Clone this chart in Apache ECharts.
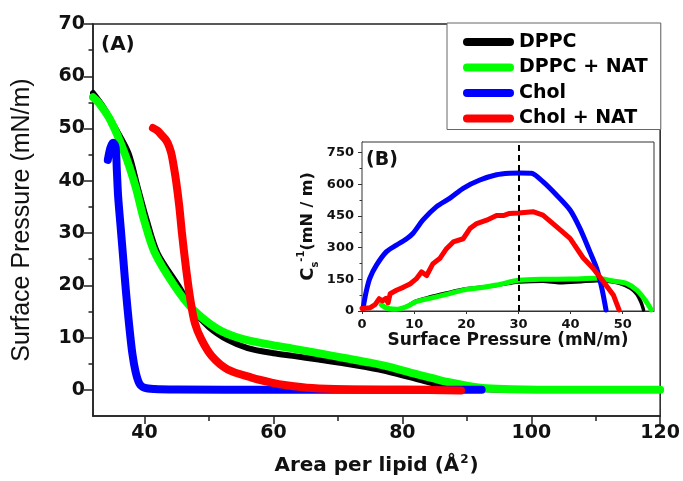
<!DOCTYPE html>
<html>
<head>
<meta charset="utf-8">
<script src="https://cdn.jsdelivr.net/npm/echarts@6/dist/echarts.min.js"></script>
<style>
html,body{margin:0;padding:0;background:#fff;}
#c{width:683px;height:481px;}
</style>
</head>
<body>
<div id="c"></div>
<script>
// ---- Data ----
const seriesNames = ['DPPC', 'DPPC + NAT', 'Chol', 'Chol + NAT'];
const seriesColors = ['#000000', '#00ff00', '#0000ff', '#ff0000'];

// Panel A: area per lipid (Å²) vs surface pressure (mN/m)
const dppcIso = [[32,56.8],[33.5,54.3],[35.4,50.2],[37.5,45.3],[38.9,38.9],[40.3,32.6],[42,26.2],[45.3,19.8],[47.5,15.4],[50,12],[53,9.5],[56,8],[60,7],[63,6.5],[67,5.8],[71.3,5.0],[76.4,3.9],[79,3.1],[81.6,2.3],[84,1.5],[86.8,0.8],[89.3,0.35],[93,0.1],[99,0]];
const dppcNatIso = [[32,56],[32.9,54.9],[34.7,51.6],[36.9,45.3],[38.6,38.9],[39.9,32.6],[41.6,26.2],[44.7,19.8],[47.5,15.4],[51.4,11.6],[55,9.8],[59.7,8.6],[63,7.9],[67,7.0],[71,6.1],[75,5.2],[78,4.4],[81.6,3.2],[84.5,2.3],[87,1.5],[90,0.8],[93,0.3],[97,0.1],[105,0],[120,0]];
const cholIso = [[34.3,44],[34.7,46.3],[35.1,47.3],[35.5,46.5],[35.7,42],[35.9,37],[36.3,31],[36.7,25],[37.1,19],[37.6,12.5],[38.1,7],[38.6,3.5],[39.2,1.2],[40,0.4],[41.5,0.15],[45,0.05],[60,0],[92.3,0]];
const cholNatIso = [[41.3,50.1],[42,49.6],[42.6,48.8],[43.2,48],[43.6,47.2],[44.1,45.5],[44.4,43.7],[44.9,39.9],[45.4,35],[45.8,30],[46.4,23.6],[47.1,17.3],[47.8,12.8],[48.8,9.7],[50.4,6.5],[52.9,3.9],[56.6,2.35],[59.7,1.4],[62,0.9],[66,0.35],[71,0.1],[80,0],[89.1,-0.1]];

// Panel B: surface pressure (mN/m) vs compressibility modulus Cs^-1 (mN/m)
const dppcCs = [[4,26],[5,12],[6.6,9],[8.5,22],[10.4,48],[13,66],[16.2,85],[19.4,103],[22.6,112],[25.8,121],[28.3,131],[30,137],[34.7,141],[38,134],[42,139],[45,143],[47.5,140],[49.5,130],[51.5,108],[52.7,80],[53.5,42],[54,5]];
const dppcNatCs = [[3.7,30],[4.4,18],[5,12],[6.6,8],[8.5,20],[10.4,44],[13,60],[16.2,79],[19.4,99],[22.6,110],[25.8,123],[28.3,137],[30,146],[34.7,150],[39.9,151],[45,155],[48.2,142],[50.7,131],[52.7,99],[54.3,52],[55.5,5]];
const cholCs = [[0.2,13],[0.8,91],[1.5,155],[2.8,218],[4.7,281],[6.6,312],[8.5,341],[9.8,368],[11.7,431],[14.3,494],[16.8,533],[19.4,581],[22.6,620],[25.8,645],[28.3,652],[30.3,653],[32.5,652],[34.7,612],[37.3,549],[39.9,478],[41.8,391],[43.7,281],[45,202],[46,107],[46.8,5]];
const cholNatCs = [[0,12],[1.5,15],[2.5,30],[3.3,58],[3.9,48],[4.6,60],[5.0,38],[5.4,82],[6.6,98],[7.9,112],[9.2,128],[10.4,152],[11.4,185],[12.4,168],[13.6,224],[14.9,248],[16.2,295],[17.5,327],[19.4,342],[20.7,390],[22,414],[23.9,430],[25.8,452],[27.1,452],[28.3,462],[30,464],[32.8,470],[34.7,454],[37.3,399],[39.9,344],[42.4,252],[44.3,202],[46.3,139],[48.2,76],[49.3,5]];
const markPressure = 30;

// Tick values
const mainXMajor = [40, 60, 80, 100, 120];
const mainXMinor = [50, 70, 90, 110];
const mainYMajor = [0, 10, 20, 30, 40, 50, 60, 70];
const mainYMinor = [5, 15, 25, 35, 45, 55, 65];
const insetXMajor = [0, 10, 20, 30, 40, 50];
const insetXTop = [5, 10, 15, 20, 25, 30, 35, 40, 45, 50, 55];
const insetYMajor = [0, 150, 300, 450, 600, 750];
const insetYMinor = [75, 225, 375, 525, 675];

// ---- Chart ----
const FB = 'DejaVu Sans';
const axisColor = '#222';
const lbl = (size) => ({fontFamily: FB, fontWeight: 'bold', fontSize: size, color: '#111'});

const chart = echarts.init(document.getElementById('c'), null, {renderer: 'canvas'});

const mainData = [dppcIso, dppcNatIso, cholIso, cholNatIso];
const insetData = [dppcCs, dppcNatCs, cholCs, cholNatCs];
const mainWidths = [6, 8, 8, 8];
const insetWidths = [3.5, 5, 5, 5];

const series = [];
mainData.forEach((d, i) => {
  series.push({
    name: seriesNames[i], type: 'line', xAxisIndex: 0, yAxisIndex: 0,
    data: d, showSymbol: false, smooth: 0.3, z: 2 + i,
    lineStyle: {color: seriesColors[i], width: mainWidths[i], cap: 'round', join: 'round'},
    itemStyle: {color: seriesColors[i]}
  });
});
insetData.forEach((d, i) => {
  const s = {
    name: seriesNames[i], type: 'line', xAxisIndex: 2, yAxisIndex: 2,
    data: d, showSymbol: false, smooth: i === 3 ? false : 0.25, z: 12 + i,
    lineStyle: {color: seriesColors[i], width: insetWidths[i], cap: 'round', join: 'round'},
    itemStyle: {color: seriesColors[i]}
  };
  if (i === 0) {
    s.markLine = {
      silent: true, symbol: 'none', label: {show: false}, z: 20,
      lineStyle: {color: '#000', type: [6, 4], width: 2},
      data: [{xAxis: markPressure}]
    };
  }
  series.push(s);
});

const pill = 'path://M4,0 L47,0 A4,4 0 0 1 47,8 L4,8 A4,4 0 0 1 4,0 Z';

chart.setOption({
  animation: false,
  backgroundColor: '#fff',
  grid: [
    {left: 93, top: 24, right: 22, bottom: 64, show: true, borderColor: axisColor, borderWidth: 1.5, backgroundColor: 'transparent'},
    {left: 362, top: 142, right: 29, bottom: 170, show: true, borderColor: '#333', borderWidth: 1, backgroundColor: '#fff', z: 10}
  ],
  legend: {
    data: seriesNames.map(n => ({name: n, icon: pill})),
    orient: 'vertical', left: 447, top: 23,
    itemWidth: 51, itemHeight: 8, itemGap: 5.5,
    padding: [9, 13, 1, 16],
    borderColor: '#666', borderWidth: 1, backgroundColor: '#fff',
    textStyle: {fontFamily: FB, fontWeight: 'bold', fontSize: 19, color: '#000', lineHeight: 20},
    selectedMode: false
  },
  xAxis: [
    {gridIndex: 0, type: 'value', min: 32, max: 120, position: 'bottom',
     axisLine: {onZero: false, lineStyle: {color: axisColor, width: 1.5}},
     axisTick: {customValues: mainXMajor, length: 8, lineStyle: {color: axisColor, width: 1.5}},
     axisLabel: {customValues: mainXMajor, margin: 8, ...lbl(19)},
     splitLine: {show: false},
     name: '{t|Area per lipid (Å}{s|2}{t|)}', nameLocation: 'middle', nameGap: 38,
     nameTextStyle: {rich: {t: {fontFamily: FB, fontWeight: 'bold', fontSize: 20, color: '#111', lineHeight: 24},
                            s: {fontFamily: FB, fontWeight: 'bold', fontSize: 12, color: '#111', verticalAlign: 'top', lineHeight: 24, padding: [0, 1, 10, 1]}}}},
    {gridIndex: 0, type: 'value', min: 32, max: 120, position: 'bottom',
     axisLine: {show: false, onZero: false},
     axisTick: {customValues: mainXMinor, length: 5, lineStyle: {color: axisColor, width: 1.5}},
     axisLabel: {show: false}, splitLine: {show: false}},
    {gridIndex: 1, type: 'value', min: 0, max: 56, position: 'bottom',
     axisLine: {onZero: false, lineStyle: {color: '#333', width: 1}},
     axisTick: {customValues: insetXMajor, length: 3, lineStyle: {color: '#333'}},
     axisLabel: {customValues: insetXMajor, margin: 7, ...lbl(13)},
     splitLine: {show: false},
     name: 'Surface Pressure (mN/m)', nameLocation: 'middle', nameGap: 21,
     nameTextStyle: {fontFamily: FB, fontWeight: 'bold', fontSize: 17, color: '#111'}},
    {gridIndex: 1, type: 'value', min: 0, max: 56, position: 'top',
     axisLine: {show: false, onZero: false},
     axisTick: {customValues: insetXTop, inside: true, length: 3, lineStyle: {color: '#555'}},
     axisLabel: {show: false}, splitLine: {show: false}}
  ],
  yAxis: [
    {gridIndex: 0, type: 'value', min: -5, max: 70, position: 'left',
     axisLine: {onZero: false, lineStyle: {color: axisColor, width: 1.5}},
     axisTick: {customValues: mainYMajor, length: 9, lineStyle: {color: axisColor, width: 1.5}},
     axisLabel: {customValues: mainYMajor, margin: 8, ...lbl(19)},
     splitLine: {show: false},
     name: 'Surface Pressure (mN/m)', nameLocation: 'middle', nameGap: 58,
     nameTextStyle: {fontFamily: 'Liberation Sans', fontSize: 25, color: '#111'}},
    {gridIndex: 0, type: 'value', min: -5, max: 70, position: 'left',
     axisLine: {show: false, onZero: false},
     axisTick: {customValues: mainYMinor, length: 4.5, lineStyle: {color: axisColor, width: 1.5}},
     axisLabel: {show: false}, splitLine: {show: false}},
    {gridIndex: 1, type: 'value', min: 0, max: 800, position: 'left',
     axisLine: {onZero: false, lineStyle: {color: '#333', width: 1}},
     axisTick: {customValues: insetYMajor, length: 4, lineStyle: {color: '#333'}},
     axisLabel: {customValues: insetYMajor, margin: 8, ...lbl(13)},
     splitLine: {show: false},
     name: '{c|C}{sub|s}{sup|-1}{n|(mN / m)}', nameLocation: 'middle', nameGap: 42,
     nameTextStyle: {rich: {
       c: {fontFamily: FB, fontWeight: 'bold', fontSize: 18, color: '#111', lineHeight: 24},
       sub: {fontFamily: FB, fontWeight: 'bold', fontSize: 10, color: '#111', verticalAlign: 'bottom', lineHeight: 24},
       sup: {fontFamily: FB, fontWeight: 'bold', fontSize: 10, color: '#111', verticalAlign: 'top', lineHeight: 24},
       n: {fontFamily: FB, fontWeight: 'bold', fontSize: 16, color: '#111', lineHeight: 24}
     }}},
    {gridIndex: 1, type: 'value', min: 0, max: 800, position: 'left',
     axisLine: {show: false, onZero: false},
     axisTick: {customValues: insetYMinor, length: 2.5, lineStyle: {color: '#333'}},
     axisLabel: {show: false}, splitLine: {show: false}}
  ],
  graphic: [
    {type: 'text', left: 101, top: 35, z: 50, style: {text: '(A)', font: 'bold 20px "DejaVu Sans"', fill: '#111'}},
    {type: 'text', left: 366, top: 151, z: 50, style: {text: '(B)', font: 'bold 19px "DejaVu Sans"', fill: '#111'}}
  ],
  series: series
});
</script>
</body>
</html>
